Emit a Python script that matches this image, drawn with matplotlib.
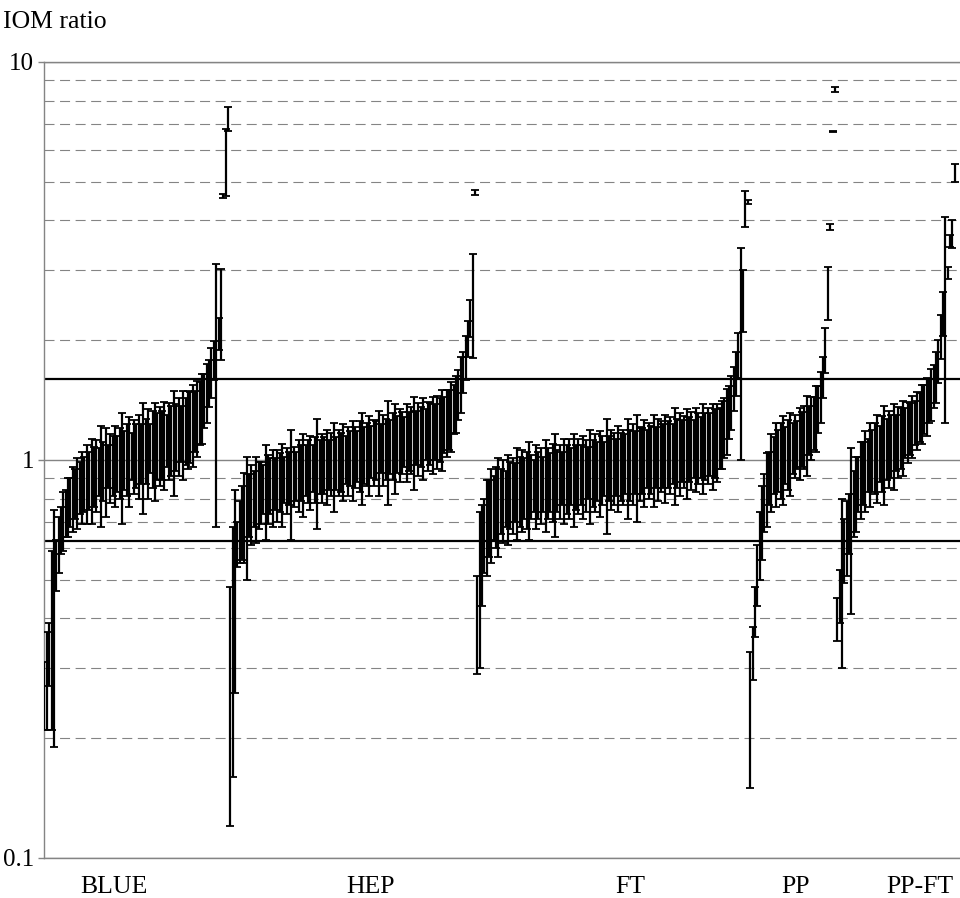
import numpy as np
import matplotlib.pyplot as plt
from matplotlib.ticker import FixedLocator, NullFormatter

# group names, left to right
groups = ["BLUE", "HEP", "FT", "PP", "PP-FT"]

# sorted IOM ratios and their error bar half-widths, one pair per group
blue_val = [0.26, 0.29, 0.33, 0.40, 0.47, 0.55, 0.62, 0.67, 0.71, 0.74,
            0.77, 0.79, 0.81, 0.83, 0.84, 0.86, 0.87, 0.88, 0.89, 0.90,
            0.91, 0.92, 0.93, 0.94, 0.95, 0.95, 0.96, 0.97, 0.97, 0.98,
            0.99, 0.99, 1.00, 1.00, 1.01, 1.02, 1.02, 1.03, 1.04, 1.04,
            1.05, 1.05, 1.06, 1.07, 1.07, 1.08, 1.09, 1.09, 1.10, 1.11,
            1.11, 1.12, 1.13, 1.14, 1.14, 1.15, 1.16, 1.17, 1.18, 1.19,
            1.20, 1.22, 1.23, 1.25, 1.27, 1.30, 1.33, 1.37, 1.42, 1.49,
            1.57, 1.67, 1.79, 1.89, 2.08, 2.40,
            4.60, 5.70, 7.20]
blue_err = [0.05, 0.08, 0.06, 0.19, 0.28, 0.08, 0.10, 0.09, 0.12, 0.10,
            0.13, 0.11, 0.15, 0.12, 0.17, 0.13, 0.18, 0.14, 0.20, 0.15,
            0.22, 0.16, 0.19, 0.13, 0.27, 0.16, 0.24, 0.12, 0.19, 0.17,
            0.23, 0.16, 0.20, 0.31, 0.17, 0.21, 0.26, 0.14, 0.22, 0.19,
            0.25, 0.18, 0.33, 0.20, 0.27, 0.15, 0.24, 0.30, 0.21, 0.25,
            0.22, 0.28, 0.17, 0.25, 0.23, 0.34, 0.22, 0.26, 0.19, 0.30,
            0.23, 0.27, 0.25, 0.29, 0.22, 0.28, 0.24, 0.27, 0.22, 0.25,
            0.21, 0.24, 0.20, 1.21, 0.19, 0.62,
            0.05, 1.10, 0.50]

hep_val = [0.30, 0.42, 0.55, 0.62, 0.67, 0.71, 0.74, 0.76, 0.78, 0.79,
           0.81, 0.82, 0.83, 0.84, 0.85, 0.86, 0.86, 0.87, 0.87, 0.88,
           0.88, 0.89, 0.89, 0.90, 0.90, 0.91, 0.91, 0.92, 0.92, 0.93,
           0.94, 0.94, 0.95, 0.95, 0.95, 0.96, 0.96, 0.97, 0.97, 0.97,
           0.98, 0.98, 0.98, 0.99, 0.99, 0.99, 1.00, 1.00, 1.01, 1.01,
           1.01, 1.02, 1.02, 1.03, 1.03, 1.04, 1.04, 1.04, 1.05, 1.05,
           1.06, 1.06, 1.07, 1.07, 1.08, 1.08, 1.08, 1.09, 1.09, 1.10,
           1.10, 1.11, 1.11, 1.12, 1.12, 1.13, 1.13, 1.14, 1.14, 1.15,
           1.15, 1.16, 1.16, 1.17, 1.17, 1.18, 1.18, 1.19, 1.20, 1.21,
           1.22, 1.24, 1.26, 1.28, 1.31, 1.35, 1.40, 1.47, 1.56, 1.67,
           1.82, 2.02, 2.28, 2.55, 4.70]
hep_err = [0.18, 0.26, 0.29, 0.08, 0.12, 0.15, 0.19, 0.26, 0.14, 0.18,
           0.13, 0.20, 0.16, 0.15, 0.12, 0.23, 0.17, 0.14, 0.19, 0.13,
           0.18, 0.15, 0.21, 0.12, 0.17, 0.14, 0.28, 0.16, 0.13, 0.19,
           0.15, 0.22, 0.14, 0.17, 0.20, 0.13, 0.18, 0.30, 0.15, 0.19,
           0.16, 0.21, 0.14, 0.18, 0.25, 0.15, 0.19, 0.17, 0.22, 0.14,
           0.20, 0.16, 0.23, 0.18, 0.15, 0.21, 0.27, 0.17, 0.19, 0.24,
           0.16, 0.20, 0.18, 0.26, 0.15, 0.22, 0.19, 0.32, 0.17, 0.21,
           0.28, 0.18, 0.23, 0.20, 0.16, 0.25, 0.19, 0.22, 0.30, 0.18,
           0.24, 0.20, 0.27, 0.17, 0.23, 0.21, 0.26, 0.19, 0.25, 0.22,
           0.28, 0.20, 0.24, 0.22, 0.26, 0.19, 0.23, 0.21, 0.25, 0.20,
           0.23, 0.21, 0.24, 0.75, 0.06]

ft_val = [0.40, 0.52, 0.60, 0.66, 0.70, 0.73, 0.75, 0.77, 0.78, 0.79,
          0.80, 0.81, 0.81, 0.82, 0.83, 0.83, 0.84, 0.85, 0.85, 0.86,
          0.86, 0.86, 0.87, 0.87, 0.87, 0.88, 0.88, 0.88, 0.88, 0.89,
          0.89, 0.89, 0.90, 0.90, 0.90, 0.90, 0.91, 0.91, 0.91, 0.92,
          0.92, 0.92, 0.92, 0.93, 0.93, 0.93, 0.93, 0.94, 0.94, 0.94,
          0.95, 0.95, 0.95, 0.96, 0.96, 0.96, 0.97, 0.97, 0.97, 0.97,
          0.98, 0.98, 0.98, 0.99, 0.99, 0.99, 1.00, 1.00, 1.00, 1.00,
          1.01, 1.01, 1.02, 1.02, 1.02, 1.03, 1.03, 1.03, 1.04, 1.04,
          1.04, 1.05, 1.05, 1.05, 1.06, 1.06, 1.06, 1.07, 1.07, 1.07,
          1.08, 1.08, 1.08, 1.09, 1.09, 1.09, 1.10, 1.10, 1.11, 1.11,
          1.11, 1.12, 1.13, 1.15, 1.18, 1.22, 1.27, 1.33, 1.41, 1.52,
          1.66, 1.85, 2.20, 2.55, 4.30, 4.45]
ft_err = [0.11, 0.22, 0.17, 0.14, 0.19, 0.16, 0.20, 0.14, 0.18, 0.22,
          0.15, 0.19, 0.13, 0.21, 0.16, 0.18, 0.14, 0.22, 0.17, 0.20,
          0.15, 0.19, 0.24, 0.16, 0.13, 0.21, 0.17, 0.19, 0.14, 0.23,
          0.18, 0.15, 0.20, 0.26, 0.16, 0.19, 0.14, 0.22, 0.18, 0.21,
          0.15, 0.24, 0.17, 0.20, 0.16, 0.22, 0.19, 0.14, 0.25, 0.18,
          0.21, 0.16, 0.23, 0.19, 0.15, 0.31, 0.18, 0.22, 0.20, 0.16,
          0.24, 0.19, 0.21, 0.17, 0.28, 0.20, 0.23, 0.18, 0.30, 0.21,
          0.19, 0.25, 0.17, 0.22, 0.20, 0.27, 0.18, 0.24, 0.21, 0.19,
          0.26, 0.20, 0.23, 0.18, 0.29, 0.21, 0.25, 0.19, 0.22, 0.27,
          0.20, 0.24, 0.18, 0.26, 0.22, 0.19, 0.28, 0.21, 0.24, 0.20,
          0.27, 0.22, 0.25, 0.20, 0.23, 0.21, 0.24, 0.20, 0.22, 0.19,
          0.21, 0.24, 1.20, 0.45, 0.45, 0.05]

pp_val = [0.24, 0.33, 0.42, 0.52, 0.62, 0.71, 0.79, 0.86, 0.91, 0.95,
          0.98, 1.00, 1.01, 1.02, 1.03, 1.04, 1.05, 1.06, 1.08, 1.10,
          1.10, 1.12, 1.14, 1.16, 1.18, 1.20, 1.22, 1.25, 1.29, 1.35,
          1.45, 1.62, 1.90, 2.65, 3.85, 6.70, 8.55]
pp_err = [0.09, 0.05, 0.06, 0.09, 0.12, 0.15, 0.13, 0.18, 0.14, 0.21,
          0.16, 0.24, 0.18, 0.22, 0.26, 0.17, 0.21, 0.25, 0.16, 0.20,
          0.15, 0.23, 0.18, 0.21, 0.27, 0.17, 0.22, 0.19, 0.24, 0.18,
          0.21, 0.19, 0.25, 0.40, 0.07, 0.02, 0.12]

ppft_val = [0.40, 0.46, 0.55, 0.60, 0.65, 0.70, 0.74, 0.79, 0.84, 0.88,
            0.91, 0.94, 0.96, 0.98, 1.00, 1.01, 1.03, 1.04, 1.05, 1.06,
            1.07, 1.08, 1.09, 1.10, 1.11, 1.12, 1.13, 1.15, 1.16, 1.18,
            1.19, 1.21, 1.23, 1.25, 1.27, 1.29, 1.32, 1.35, 1.38, 1.42,
            1.47, 1.54, 1.63, 1.78, 2.05, 2.35, 2.66, 2.95, 3.55, 3.70,
            5.27]
ppft_err = [0.05, 0.07, 0.25, 0.11, 0.14, 0.12, 0.33, 0.15, 0.18, 0.14,
            0.20, 0.17, 0.22, 0.15, 0.24, 0.18, 0.21, 0.26, 0.17, 0.23,
            0.30, 0.19, 0.24, 0.20, 0.27, 0.18, 0.23, 0.20, 0.25, 0.17,
            0.21, 0.18, 0.22, 0.16, 0.21, 0.18, 0.22, 0.19, 0.23, 0.18,
            0.22, 0.19, 0.24, 0.22, 0.26, 0.30, 1.42, 0.10, 0.12, 0.30,
            0.28]

# acceptance band
limit_low = 0.625
limit_high = 1.6

series = [(blue_val, blue_err), (hep_val, hep_err), (ft_val, ft_err),
          (pp_val, pp_err), (ppft_val, ppft_err)]

plt.rcParams["font.family"] = ["Liberation Serif", "DejaVu Serif"]
grey = "#848484"

fig = plt.figure(figsize=(9.6, 8.98), dpi=100)
ax = fig.add_axes([44 / 960, 40 / 898, 916 / 960, 796 / 898])

start = 0
for vals, errs in series:
    x = np.arange(start, start + len(vals))
    ax.errorbar(x, vals, yerr=errs, fmt="none", ecolor="black",
                elinewidth=1.6, capsize=3.2, capthick=1.3, zorder=3)
    start += len(vals)
n_total = start

ax.axhline(limit_high, color="black", lw=1.6, zorder=2)
ax.axhline(limit_low, color="black", lw=1.6, zorder=2)

ax.set_yscale("log")
ax.set_ylim(0.1, 10)
ax.set_xlim(-0.2, n_total + 1.2)

ax.yaxis.set_major_locator(FixedLocator([0.1, 1, 10]))
ax.set_yticklabels(["0.1", "1", "10"])
minor = [m * d for d in (0.1, 1) for m in range(2, 10)]
ax.yaxis.set_minor_locator(FixedLocator(minor))
ax.yaxis.set_minor_formatter(NullFormatter())
ax.tick_params(axis="y", which="major", length=4, width=1, color=grey,
               labelsize=18, pad=3)
ax.tick_params(axis="y", which="minor", length=0)
ax.set_xticks([])

ax.grid(axis="y", which="major", color=grey, lw=1.0, ls="-")
ax.grid(axis="y", which="minor", color=grey, lw=0.8, ls=(0, (9, 5)))
ax.set_axisbelow(True)

for side in ["left", "bottom", "top"]:
    ax.spines[side].set_color(grey)
    ax.spines[side].set_linewidth(1.0)
ax.spines["right"].set_visible(False)

# group labels under the axis
label_pos = [0.076, 0.356, 0.640, 0.820, 0.956]
for name, xp in zip(groups, label_pos):
    ax.text(xp, -0.036, name, transform=ax.transAxes, ha="center",
            va="center", fontsize=18.5)

fig.text(3 / 960, 1 - 22 / 898, "IOM ratio", ha="left", va="center",
         fontsize=18.5)

fig.savefig("out.png", dpi=100)
